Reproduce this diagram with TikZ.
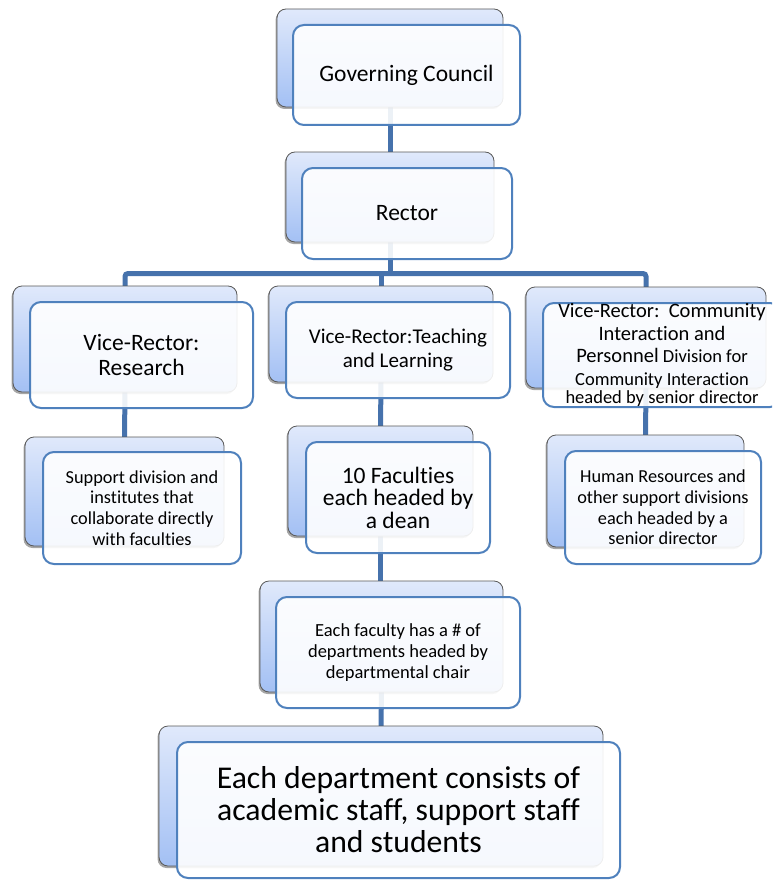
\documentclass[tikz,border=0pt]{standalone}
\usepackage{fontspec}
\setmainfont{Carlito}[Ligatures={TeX,NoCommon}]
\usetikzlibrary{shadows,backgrounds}
\definecolor{linkblue}{HTML}{4672AC}
\definecolor{frameblue}{HTML}{4F81BD}
\definecolor{backtop}{HTML}{E0E9FB}
\definecolor{backbot}{HTML}{A3C0F4}
\tikzset{
  backbox/.style={rectangle, rounded corners=9pt, draw=black!65, line width=0.8pt,
    top color=backtop, bottom color=backbot, inner sep=0pt, outer sep=0pt,
    drop shadow={shadow xshift=-1.5pt, shadow yshift=-2pt, opacity=0.35, fill=black}},
  frontbox/.style={rectangle, rounded corners=11pt, draw=frameblue, line width=2pt,
    fill=white, fill opacity=0.9, text opacity=1, inner sep=0pt, outer sep=0pt,
    align=center},
  link/.style={draw=linkblue, line width=5pt},
  big/.style={font=\fontsize{23.5}{25.7}\selectfont},
  mid/.style={font=\fontsize{21}{24}\selectfont},
  small/.style={font=\fontsize{18.3}{20.7}\selectfont},
}
\begin{document}
\begin{tikzpicture}[x=1pt,y=-1pt]
\useasboundingbox (0,0) rectangle (772,880);
\clip (0,0) rectangle (772,880);

% back plates
\node[backbox, minimum width=226pt, minimum height=98pt]  (gcb)    at (390,58)      {};
\node[backbox, minimum width=208pt, minimum height=90pt]  (rb)     at (390,197)     {};
\node[backbox, minimum width=224pt, minimum height=106pt] (resb)   at (125,339)     {};
\node[backbox, minimum width=224pt, minimum height=96pt]  (teachb) at (381,334)     {};
\node[backbox, minimum width=240pt, minimum height=101pt] (comb)   at (646,337.5)   {};
\node[backbox, minimum width=199pt, minimum height=109pt] (supb)   at (124.5,491.5) {};
\node[backbox, minimum width=185pt, minimum height=110pt] (facb)   at (380.5,481)   {};
\node[backbox, minimum width=197pt, minimum height=112pt] (hrb)    at (645.5,491)   {};
\node[backbox, minimum width=243pt, minimum height=111pt] (efb)    at (381.5,636.5) {};
\node[backbox, minimum width=444pt, minimum height=140pt] (deptb)  at (381,796)     {};

% front cards with the texts
\node[frontbox, big, minimum width=227pt, minimum height=100pt] (gc) at (406.5,75) {Governing Council};
\node[frontbox, big, minimum width=210pt, minimum height=91pt] (rector) at (407,213.5) {Rector};
\node[frontbox, big, minimum width=223pt, minimum height=106pt] (res) at (141.5,355) {Vice-Rector:\\Research};
\node[frontbox, mid, minimum width=224pt, minimum height=96pt] (teach) at (398,350) {Vice-Rector:Teaching\\and Learning};
\node[frontbox, font=\fontsize{18.5}{22.5}\selectfont, minimum width=238pt, minimum height=104pt] (com) at (662,355)
  {{\fontsize{20.5}{22.5}\selectfont Vice-Rector:\ \ Community}\\
   {\fontsize{20.5}{22.5}\selectfont Interaction and}\\
   {\fontsize{20.5}{22.5}\selectfont Personnel} Division for\\
   Community Interaction\\[-4pt]
   headed by senior director};
\node[frontbox, small, minimum width=198pt, minimum height=112pt] (sup) at (142,508)
  {Support division and\\institutes that\\collaborate directly\\with faculties};
\node[frontbox, font=\fontsize{23.5}{22.5}\selectfont, minimum width=184pt, minimum height=111pt] (fac) at (398,497.5)
  {10 Faculties\\each headed by\\a dean};
\node[frontbox, small, minimum width=196pt, minimum height=113pt] (hr) at (663,507.5)
  {Human Resources and\\other support divisions\\each headed by a\\senior director};
\node[frontbox, font=\fontsize{18.5}{21}\selectfont, minimum width=244pt, minimum height=111pt] (ef) at (398,652.5)
  {Each faculty has a \# of\\departments headed by\\departmental chair};
\node[frontbox, font=\fontsize{31.7}{32}\selectfont, minimum width=443pt, minimum height=136pt] (dept) at (398.5,810)
  {Each department consists of\\academic staff, support staff\\and students};

% connectors, kept beneath the plates and cards
\coordinate (bar) at (390,273.5);
\begin{pgfonlayer}{background}
  \draw[link] (gcb.south) -- (rb.north);
  \draw[link] (rb.south) -- (bar);
  \draw[link, rounded corners=3pt] (resb.north) |- (bar) -| (comb.north);
  \draw[link] (teachb.north) -- (teachb.north |- bar);
  \draw[link] (resb.south) -- (supb.north);
  \draw[link] (teachb.south) -- (facb.north);
  \draw[link] (comb.south) -- (hrb.north);
  \draw[link] (facb.south) -- (facb.south |- efb.north);
  \draw[link] (efb.south) -- (deptb.north);
\end{pgfonlayer}
\end{tikzpicture}
\end{document}
